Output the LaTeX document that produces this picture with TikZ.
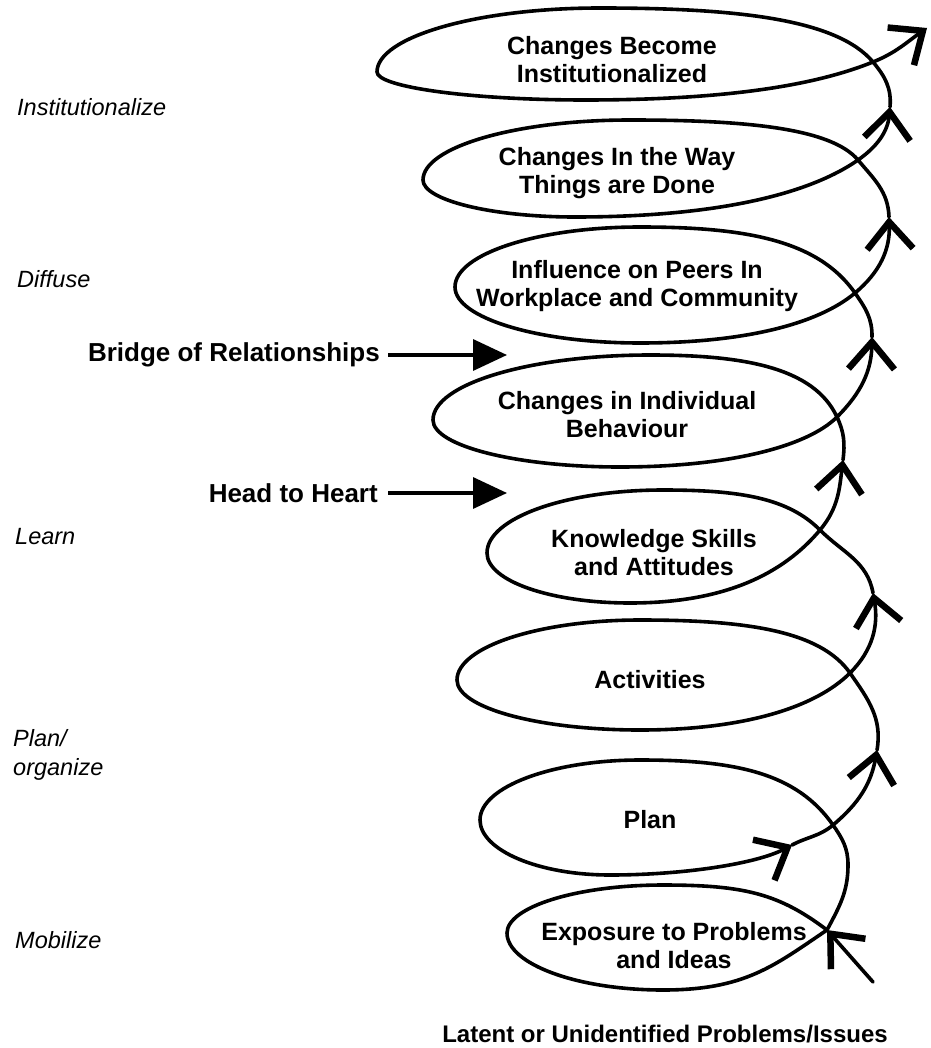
\documentclass[tikz,border=0pt]{standalone}
\usepackage{fontspec}
\setmainfont{Liberation Sans}
\usetikzlibrary{arrows.meta}
\begin{document}
\begin{tikzpicture}[x=1pt,y=1pt,
  loop/.style={line width=3.6pt, line cap=round, line join=round},
  stagetext/.style={font=\fontsize{25}{28}\selectfont\bfseries, align=center, inner sep=0pt},
  phase/.style={font=\fontsize{23.5}{29}\selectfont\itshape, align=left, anchor=west, inner sep=0pt},
  cue/.style={font=\fontsize{26}{30}\selectfont\bfseries, anchor=east, inner sep=0pt},
  barb/.tip={Straight Barb[length=27pt,width=46pt,line width=6.5pt 0]},
  pointer/.style={line width=3.4pt, -{Triangle[length=34pt,width=31pt]}}
]
\fill[white] (0,0) rectangle (930,-1048);
\useasboundingbox (0,0) rectangle (930,-1048);

% ---- points of the spiral (x right, y up, page origin top left) ----
\coordinate (S0) at (873,-982);
\coordinate (R1) at (827,-930);
\coordinate (T1) at (663,-885);
\coordinate (L1) at (507,-933);
\coordinate (B1) at (663,-990);
\coordinate (M1) at (848,-865);
\coordinate (X2) at (833,-825);
\coordinate (T2) at (640,-760);
\coordinate (L2) at (480,-820);
\coordinate (B2) at (610,-875);
\coordinate (A2) at (792,-845);
\coordinate (R3) at (877,-750);
\coordinate (X3) at (850,-673);
\coordinate (T3) at (640,-620);
\coordinate (L3) at (457,-680);
\coordinate (B3) at (640,-730);
\coordinate (R4) at (873,-593);
\coordinate (X4) at (820,-530);
\coordinate (T4) at (663,-490);
\coordinate (L4) at (487,-553);
\coordinate (B4) at (630,-603);
\coordinate (R5) at (843,-460);
\coordinate (X5) at (837,-417);
\coordinate (T5) at (650,-355);
\coordinate (L5) at (433,-420);
\coordinate (B5) at (620,-467);
\coordinate (R6) at (872,-337);
\coordinate (X6) at (855,-293);
\coordinate (T6) at (640,-227);
\coordinate (L6) at (455,-287);
\coordinate (B6) at (640,-343);
\coordinate (R7) at (889,-217);
\coordinate (X7) at (858,-160);
\coordinate (T7) at (630,-120);
\coordinate (L7) at (423,-180);
\coordinate (B7) at (575,-217);
\coordinate (R8) at (890,-107);
\coordinate (X8) at (873,-62);
\coordinate (T8) at (600,-8);
\coordinate (L8) at (377,-72);
\coordinate (B8) at (585,-100);
\coordinate (E) at (927,-28);

% ---- the spiral, turn by turn ----
\draw[loop,-barb] (S0) -- (R1);
\draw[loop] (R1) to[out=143,in=0,out distance=60pt,in distance=82pt] (T1)
  to[out=180,in=90,out distance=86pt,in distance=26pt] (L1)
  to[out=270,in=180,out distance=31pt,in distance=86pt] (B1)
  to[out=0,in=214,out distance=82pt,in distance=64pt] (R1);

\draw[loop,-barb] (R1) to[out=62,in=270] (M1) to[out=90,in=-55] (X2)
  to[out=125,in=0,out distance=63pt,in distance=97pt] (T2)
  to[out=180,in=90,out distance=88pt,in distance=33pt] (L2)
  to[out=270,in=180,out distance=30pt,in distance=72pt] (B2)
  to[out=0,in=208,out distance=73pt,in distance=40pt] (A2);
\draw[loop,-barb] (A2) to[out=28,in=220] (X2) to[out=40,in=260] (R3);

\draw[loop,-barb] (R3) to[out=80,in=-55] (X3)
  to[out=125,in=0,out distance=52pt,in distance=105pt] (T3)
  to[out=180,in=90,out distance=101pt,in distance=33pt] (L3)
  to[out=270,in=180,out distance=28pt,in distance=101pt] (B3)
  to[out=0,in=225,out distance=105pt,in distance=48pt] (X3)
  to[out=45,in=280] (R4);

\draw[loop,-barb] (R4) to[out=100,in=-45] (X4)
  to[out=135,in=0,out distance=45pt,in distance=78pt] (T4)
  to[out=180,in=90,out distance=97pt,in distance=35pt] (L4)
  to[out=270,in=180,out distance=28pt,in distance=79pt] (B4)
  to[out=0,in=230,out distance=95pt,in distance=57pt] (X4)
  to[out=50,in=263] (R5);

\draw[loop,-barb] (R5) to[out=83,in=-65] (X5)
  to[out=115,in=0,out distance=55pt,in distance=93pt] (T5)
  to[out=180,in=90,out distance=120pt,in distance=36pt] (L5)
  to[out=270,in=180,out distance=26pt,in distance=103pt] (B5)
  to[out=0,in=225,out distance=108pt,in distance=42pt] (X5)
  to[out=45,in=269] (R6);

\draw[loop,-barb] (R6) to[out=89,in=-55] (X6)
  to[out=125,in=0,out distance=64pt,in distance=107pt] (T6)
  to[out=180,in=90,out distance=102pt,in distance=33pt] (L6)
  to[out=270,in=180,out distance=31pt,in distance=102pt] (B6)
  to[out=0,in=220,out distance=107pt,in distance=47pt] (X6)
  to[out=40,in=272] (R7);

\draw[loop,-barb] (R7) to[out=92,in=-50] (X7)
  to[out=130,in=0,out distance=42pt,in distance=114pt] (T7)
  to[out=180,in=90,out distance=114pt,in distance=33pt] (L7)
  to[out=270,in=180,out distance=20pt,in distance=84pt] (B7)
  to[out=0,in=215,out distance=141pt,in distance=60pt] (X7)
  to[out=35,in=265] (R8);

\draw[loop,-barb] (R8) to[out=85,in=-50] (X8)
  to[out=130,in=0,out distance=56pt,in distance=137pt] (T8)
  to[out=180,in=90,out distance=123pt,in distance=35pt] (L8)
  to[out=270,in=180,out distance=15pt,in distance=115pt] (B8)
  to[out=0,in=202,out distance=144pt,in distance=61pt] (X8)
  to[out=22,in=215] (E);

% ---- stage texts inside the turns ----
\node[stagetext] (s8) at (612,-60) {Changes Become\\Institutionalized};
\node[stagetext] (s7) at (617,-173) {Changes In the Way\\Things are Done};
\node[stagetext] (s6) at (637,-286) {Influence on Peers In\\Workplace and Community};
\node[stagetext] (s5) at (627,-415) {Changes in Individual\\Behaviour};
\node[stagetext] (s4) at (654,-553) {Knowledge Skills\\and Attitudes};
\node[stagetext] (s3) at (650,-680) {Activities};
\node[stagetext] (s2) at (650,-820) {Plan};
\node[stagetext] (s1) at (674,-946) {Exposure to Problems\\and Ideas};

% ---- phases on the left ----
\node[phase] (inst) at (17,-107) {Institutionalize};
\node[phase] (diff) at (17,-279) {Diffuse};
\node[phase] (learn) at (15,-537) {Learn};
\node[phase] (plan) at (13,-755) {Plan/\\organize};
\node[phase] (mob) at (15,-940) {Mobilize};

% ---- cues pointing into the spiral ----
\node[cue] (bridge) at (380,-355) {Bridge of Relationships};
\coordinate (bridgetip) at (507,-355);
\draw[pointer] ([xshift=8pt]bridge.east) -- (bridgetip);
\node[cue] (heart) at (378,-493) {Head to Heart};
\coordinate (hearttip) at (507,-493);
\draw[pointer] ([xshift=10pt]heart.east) -- (hearttip);

% ---- starting point ----
\node[font=\fontsize{24}{28}\selectfont\bfseries, inner sep=0pt] (latent) at (665,-1034) {Latent or Unidentified Problems/Issues};
\end{tikzpicture}
\end{document}
